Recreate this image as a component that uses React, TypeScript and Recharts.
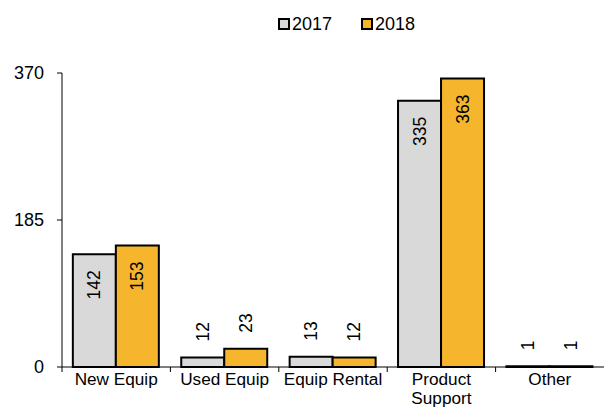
import { BarChart, Bar, XAxis, YAxis, LabelList, Text } from 'recharts';

const categories = ['New Equip', 'Used Equip', 'Equip Rental', 'Product Support', 'Other'];
const values2017 = [142, 12, 13, 335, 1];
const values2018 = [153, 23, 12, 363, 1];
const yTicks = [0, 185, 370];
const years = ['2017', '2018'];

const data = categories.map((name, i) => ({ name, y2017: values2017[i], y2018: values2018[i] }));

const W = 605;
const H = 408;
const MARGIN = { top: 73, right: 1, bottom: 0, left: 0 };
const Y_W = 62;
const X_H = 41;
const BAND = (W - MARGIN.left - Y_W - MARGIN.right) / categories.length;
const FONT = '"Liberation Sans", Arial, sans-serif';
const GRAY = '#d9d9d9';
const GOLD = '#f5b62d';
const COLORS = [GRAY, GOLD];

function CategoryTick(props: any) {
  const { x, y, payload } = props;
  const left = x - BAND / 2;
  return (
    <g>
      <line x1={left} x2={left} y1={y} y2={y + 5} stroke="#000" />
      <Text
        x={x}
        y={y + 6}
        width={BAND - 4}
        textAnchor="middle"
        verticalAnchor="start"
        lineHeight={19}
        fill="#000"
        style={{ fontSize: 17.2, fontFamily: FONT }}
      >
        {payload.value}
      </Text>
    </g>
  );
}

function BarValue(props: any) {
  const { x, y, width, value } = props;
  const cx = Number(x) + Number(width) / 2;
  const inside = value > 50;
  const ty = inside ? Number(y) + 16 : Number(y) - 16;
  return (
    <text
      x={cx}
      y={ty}
      transform={`rotate(-90 ${cx} ${ty})`}
      textAnchor={inside ? 'end' : 'start'}
      dominantBaseline="central"
      fontSize={17.5}
      fontFamily={FONT}
      fill="#000"
    >
      {value}
    </text>
  );
}

export default function App() {
  return (
    <div style={{ position: 'absolute', left: 0, top: 0, width: W, height: H, background: '#fff' }}>
      <div
        style={{
          position: 'absolute',
          left: 278,
          top: 14,
          height: 20,
          display: 'flex',
          alignItems: 'center',
          fontFamily: FONT,
          fontSize: 18,
          color: '#000',
        }}
      >
        {years.map((yr, i) => (
          <div key={yr} style={{ display: 'flex', alignItems: 'center', marginRight: i === 0 ? 29 : 0 }}>
            <span
              style={{
                display: 'inline-block',
                width: 12,
                height: 12,
                boxSizing: 'border-box',
                border: '2px solid #000',
                background: COLORS[i],
                marginRight: 2,
              }}
            />
            <span>{yr}</span>
          </div>
        ))}
      </div>
      <BarChart width={W} height={H} data={data} margin={MARGIN} barCategoryGap="10%" barGap={0}>
        <XAxis
          dataKey="name"
          height={X_H}
          interval={0}
          tickLine={false}
          tickSize={0}
          tickMargin={0}
          axisLine={{ stroke: '#000' }}
          tick={(p: any) => <CategoryTick {...p} />}
        />
        <YAxis
          width={Y_W}
          domain={[0, 370]}
          ticks={yTicks}
          interval={0}
          tickSize={5}
          tickMargin={13}
          axisLine={{ stroke: '#000' }}
          tickLine={{ stroke: '#000' }}
          tick={{ fontSize: 18, fill: '#000', fontFamily: FONT }}
        />
        <Bar dataKey="y2017" fill={GRAY} stroke="#000" strokeWidth={2} isAnimationActive={false}>
          <LabelList dataKey="y2017" content={(p: any) => <BarValue {...p} />} />
        </Bar>
        <Bar dataKey="y2018" fill={GOLD} stroke="#000" strokeWidth={2} isAnimationActive={false}>
          <LabelList dataKey="y2018" content={(p: any) => <BarValue {...p} />} />
        </Bar>
      </BarChart>
    </div>
  );
}
